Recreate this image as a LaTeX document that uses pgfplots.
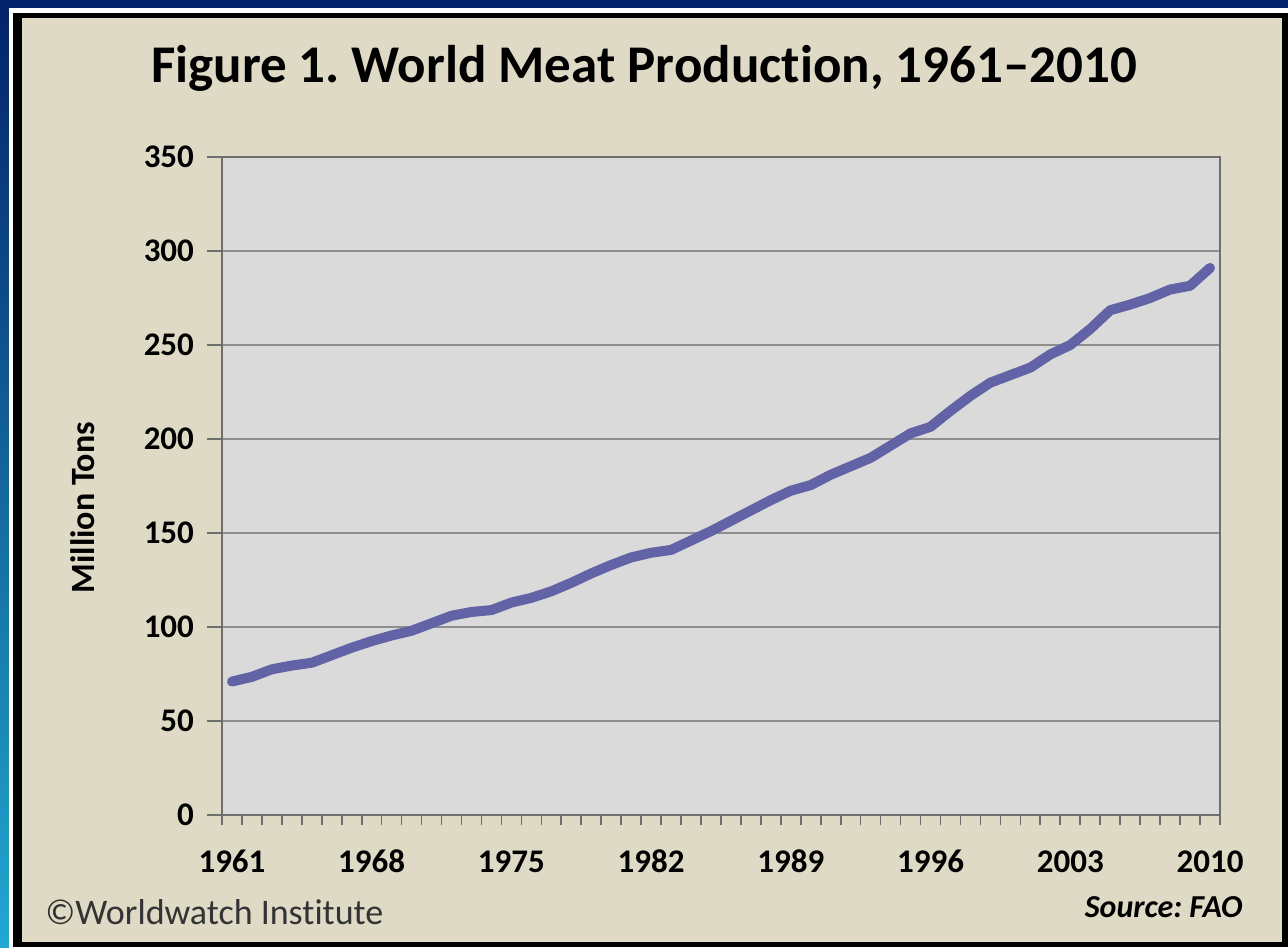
\documentclass[border=0pt]{standalone}
\usepackage{fontspec}
\setmainfont{Carlito}[Ligatures=NoCommon]
\usepackage{pgfplots}
\pgfplotsset{compat=1.18}
\frenchspacing
\definecolor{navy}{HTML}{03236A}
\definecolor{cyanb}{HTML}{22A8D2}
\definecolor{panel}{HTML}{DEDAC6}
\definecolor{plotbg}{HTML}{DADADA}
\definecolor{linec}{HTML}{6262A6}
\definecolor{gridc}{HTML}{8E8E8E}
\definecolor{axisc}{HTML}{6E6E6E}
\begin{document}
\begin{tikzpicture}[x=1pt,y=1pt]
\fill[navy] (0,0) rectangle (644,473.5);
\shade[top color=navy, bottom color=cyanb] (0,0) rectangle (4.5,469.5);
\fill[white] (4.5,0) rectangle (644,469.5);
\fill[black] (6.5,0) rectangle (644,467);
\fill[panel] (11,2.5) rectangle (641,464.5);
\node[font=\bfseries\fontsize{26.5}{30}\selectfont] at (322,439.5) {Figure 1. World Meat Production, 1961–2010};
\begin{axis}[
  at={(111pt,66pt)}, anchor=south west,
  scale only axis, width=499pt, height=329pt,
  xmin=1960.5, xmax=2010.5, ymin=0, ymax=350,
  axis background/.style={fill=plotbg},
  xtick={1961,1968,...,2010},
  minor xtick={1960.5,1961.5,...,2010.5},
  major x tick style={draw=none},
  xtick pos=bottom, ytick pos=left,
  minor tick length=5pt,
  major tick length=7.5pt,
  tick align=outside,
  ytick={0,50,...,350},
  ymajorgrids,
  grid style={gridc, line width=1pt},
  axis line style={axisc, line width=1pt},
  tick style={axisc, line width=0.8pt},
  ticklabel style={font=\bfseries\fontsize{16.5}{19}\selectfont},
  xticklabel style={yshift=-6pt, anchor=north, text height=11.5pt, text depth=0pt},
  yticklabel style={xshift=-3pt},
  /pgf/number format/assume math mode=true,
  /pgf/number format/1000 sep={},
  ylabel={Million Tons},
  ylabel style={font=\bfseries\fontsize{17}{19}\selectfont, at={(axis description cs:-0.14,0.467)}, anchor=center},
]
\addplot[linec, line width=5pt, line join=round, line cap=round] table {
x y
1961 71
1962 73.5
1963 77.5
1964 79.5
1965 81
1966 85
1967 89
1968 92.5
1969 95.5
1970 98
1971 102
1972 106
1973 108
1974 109
1975 113
1976 115.5
1977 119
1978 123.5
1979 128.5
1980 133
1981 137
1982 139.5
1983 141
1984 146
1985 151
1986 156.5
1987 162
1988 167.5
1989 172.5
1990 175.5
1991 181
1992 185.5
1993 190
1994 196.5
1995 203
1996 206.5
1997 215
1998 223
1999 230
2000 234
2001 238
2002 245
2003 250
2004 258.5
2005 268.5
2006 271.5
2007 275
2008 279.5
2009 281.5
2010 291
};
\end{axis}
\node[anchor=east, inner sep=0pt, font=\bfseries\itshape\fontsize{16}{18}\selectfont] at (621.5,20) {Source: FAO};
\node[anchor=west, inner sep=0pt, font=\fontsize{18}{20}\selectfont, text=black!80] at (22.5,17.5) {©Worldwatch Institute};
\end{tikzpicture}
\end{document}
